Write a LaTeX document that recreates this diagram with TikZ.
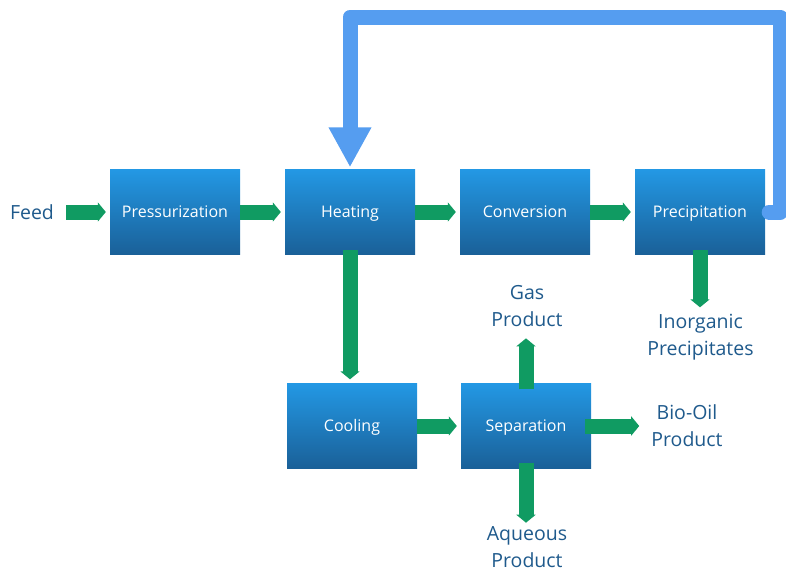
\documentclass[tikz,border=0pt]{standalone}
\usepackage{fontspec}
\setmainfont{Open Sans}
\usetikzlibrary{arrows.meta}
\definecolor{boxtop}{RGB}{35,152,228}
\definecolor{boxbot}{RGB}{26,96,152}
\definecolor{labelblue}{RGB}{31,90,140}
\definecolor{flowgreen}{RGB}{16,155,98}
\definecolor{loopblue}{RGB}{85,157,240}
\tikzset{
  unit/.style={minimum width=130pt, minimum height=85pt, inner sep=0pt,
    top color=boxtop, bottom color=boxbot, text=white,
    font=\fontsize{16}{19}\selectfont, text height=11.4pt, text depth=0pt},
  stream/.style={text=labelblue, align=center, inner sep=4pt,
    font=\fontsize{19.5}{27}\selectfont},
  flow/.style={draw=flowgreen, line width=15pt, -{Triangle[width=19pt,length=8pt]}},
  recycle/.style={draw=loopblue, line width=15pt, line join=round, line cap=round,
    -{Triangle[width=40pt,length=40pt]}}
}

\begin{document}
\begin{tikzpicture}[x=1pt,y=-1pt]
                \useasboundingbox (0,0) rectangle (786,573);

                % Units
                \node[unit] (press) at (175,212) {Pressurization};
                \node[unit] (heat) at (350,212) {Heating};
                \node[unit] (conv) at (525,212) {Conversion};
                \node[unit] (prec) at (700,212) {Precipitation};
                \node[unit] (cool) at (352,426) {Cooling};
                \node[unit] (sep) at (526,426) {Separation};

                % Labels
                \node[stream] (feed) at (32,212) {Feed};
                \node[stream] (gas) at (527,306.5) {Gas\\Product};
                \node[stream] (inorg) at (700.5,337.5) {Inorganic\\Precipitates};
                \node[stream] (bio) at (687,425.5) {Bio-Oil\\Product};
                \node[stream] (aq) at (527,547.5) {Aqueous\\Product};

                % Main line
                \draw[flow, shorten <=8pt, shorten >=4pt] (feed) -- (press);
                \draw[flow, shorten >=4pt] (press) -- (heat);
                \draw[flow, shorten >=4pt] (heat) -- (conv);
                \draw[flow, shorten >=4pt] (conv) -- (prec);

                % Down to cooling and separation
                \draw[flow] ([yshift=5pt]heat.south) -- ([yshift=4pt]heat.south |- cool.north);
                \draw[flow, shorten >=4pt] (cool) -- (sep);

                % Products
                \draw[flow, shorten >=3pt] ([yshift=5pt]prec.south) -- (prec.south |- inorg.north);
                \draw[flow, shorten >=7pt] ([yshift=-6pt]sep.north) -- (sep.north |- gas.south);
                \draw[flow] ([yshift=6pt]sep.south) -- (sep.south |- aq.north);
                \draw[flow, shorten >=8pt] ([xshift=-6pt]sep.east) -- (sep.east -| bio.west);

                % Recycle
                \coordinate (loopcorner) at (780,17);
                \draw[recycle, shorten >=2pt] ([xshift=4pt]prec.east) -| (loopcorner) -| (heat.north);
            \end{tikzpicture}
\end{document}
